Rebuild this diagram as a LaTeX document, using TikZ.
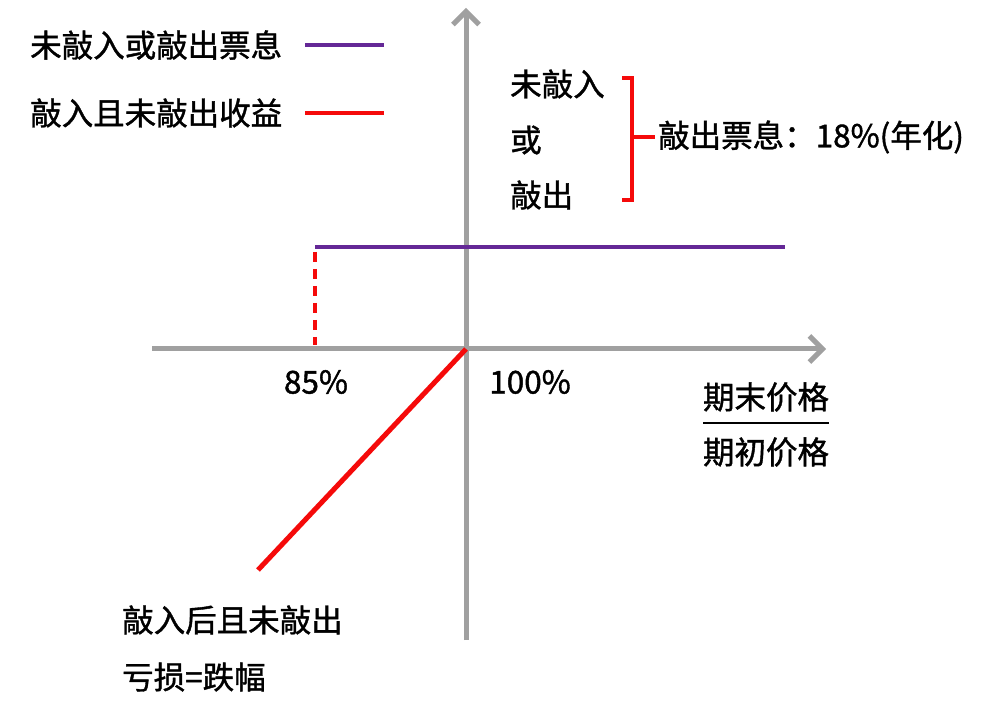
\documentclass[tikz,border=0pt]{standalone}
\usepackage{fontspec}
\setmainfont[FakeBold=1.2,AutoFakeBold=1.2]{Noto Sans CJK SC}
\usetikzlibrary{arrows.meta}
\definecolor{ax}{RGB}{160,160,160}
\definecolor{pur}{RGB}{100,40,150}
\definecolor{rd}{RGB}{245,10,10}
\tikzset{lbl/.style={font=\fontsize{31.5}{36}\selectfont\bfseries,inner sep=0pt},
axis/.style={ax,line width=5pt,-{Straight Barb[length=13pt,width=26pt,line width=5pt]}}}
\begin{document}
\begin{tikzpicture}[x=1pt,y=-1pt]
\useasboundingbox[fill=white] (0,0) rectangle (989,703);
\coordinate (vb) at (466,640); \coordinate (vt) at (466,8);
\coordinate (hl) at (152,349); \coordinate (hr) at (826,349);
\draw[axis] (vb) -- (vt);
\draw[axis] (hl) -- (hr);
\coordinate (p1) at (315,247); \coordinate (p2) at (785,247);
\draw[pur,line width=4.5pt] (p1) -- (p2);
\coordinate (d1) at (315,252); \coordinate (d2) at (315,345);
\draw[rd,line width=4.5pt,dash pattern=on 10pt off 7pt] (d1) -- (d2);
\coordinate (o) at (466,349); \coordinate (r2) at (258,570);
\draw[rd,line width=5pt] (o) -- (r2);
\node[lbl,anchor=west] (l1) at (30,45) {未敲入或敲出票息};
\coordinate (l1a) at (305,45); \coordinate (l1b) at (384,45);
\draw[pur,line width=4.5pt] (l1a) -- (l1b);
\node[lbl,anchor=west] (l2) at (30,113) {敲入且未敲出收益};
\coordinate (l2a) at (305,113); \coordinate (l2b) at (384,113);
\draw[rd,line width=4.5pt] (l2a) -- (l2b);
\node[lbl,anchor=west] (t1) at (510,84) {未敲入};
\node[lbl,anchor=west] (t2) at (510,140) {或};
\node[lbl,anchor=west] (t3) at (510,195) {敲出};
\coordinate (b1) at (622,78); \coordinate (b2) at (632,78);
\coordinate (b3) at (632,200); \coordinate (b4) at (622,200);
\coordinate (bm) at (632,137); \coordinate (bn) at (655,137);
\draw[rd,line width=4pt] (b1) -- (b2) -- (b3) -- (b4);
\draw[rd,line width=3.5pt] (bm) -- (bn);
\node[lbl,anchor=west] (cp) at (658,137) {敲出票息：18\%(年化)};
\node[lbl] (k85) at (316,382) {85\%};
\node[lbl] (k100) at (530,382) {100\%};
\node[lbl] (num) at (766,397) {期末价格};
\node[lbl] (den) at (766,452) {期初价格};
\coordinate (f1) at (703,423); \coordinate (f2) at (829,423);
\draw[line width=2.5pt] (f1) -- (f2);
\node[lbl,anchor=west] (n1) at (122,620) {敲入后且未敲出};
\node[lbl,anchor=west] (n2) at (122,677) {亏损=跌幅};
\end{tikzpicture}
\end{document}
